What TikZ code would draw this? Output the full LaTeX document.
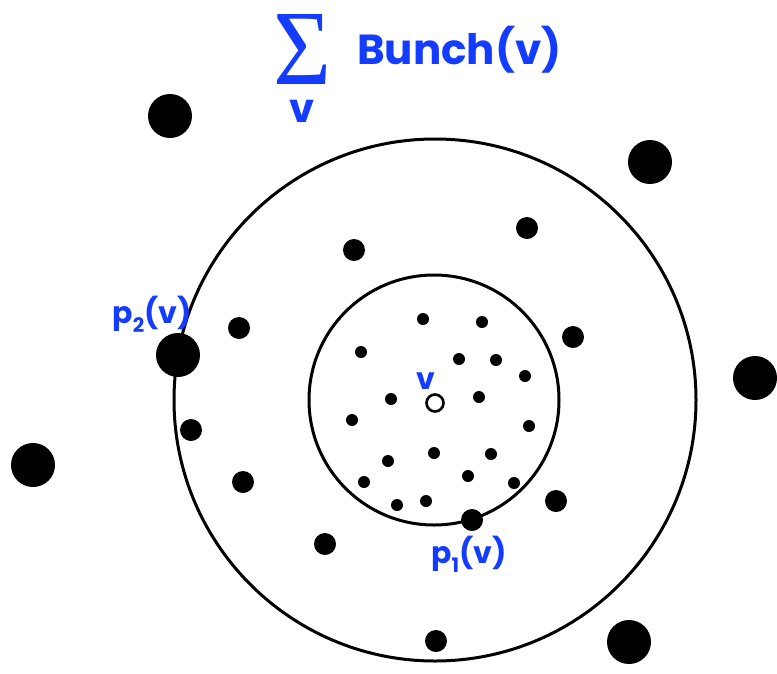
\documentclass[tikz,border=0pt]{standalone}
\usepackage{fontspec}
\usepackage{graphicx}
\setsansfont{Poppins}
\newfontfamily\sigfont{Liberation Serif}
\definecolor{lblue}{RGB}{20,60,255}
\begin{document}
\begin{tikzpicture}[x=1pt,y=-1pt,
  ring/.style={draw=black,line width=3pt},
  sdot/.style={circle,fill=black,inner sep=0pt,minimum size=12pt},
  mdot/.style={circle,fill=black,inner sep=0pt,minimum size=22pt},
  ldot/.style={circle,fill=black,inner sep=0pt,minimum size=44pt},
  lbl/.style={text=lblue,font=\sffamily\bfseries,inner sep=0pt},
  lab/.style={lbl,font=\sffamily\bfseries\fontsize{30}{30}\selectfont}]
\useasboundingbox (0,0) rectangle (777,673);
% circles
\node[ring,circle,minimum size=522pt,inner sep=0pt] (outer) at (435,400) {};
\node[ring,circle,minimum size=250pt,inner sep=0pt] (inner) at (434,400) {};
% small dots
\foreach \n/\x/\y in {s1/423/319,s2/482/322,s3/361/352,s4/459/359,s5/496/360,s6/525/376,
  s7/391/399,s8/479/397,s9/352/420,s10/529/426,s11/434/453,s12/491/454,s13/388/461,
  s14/364/482,s15/468/476,s16/514/483,s17/397/505,s18/426/501}
  \node[sdot] (\n) at (\x,\y) {};
% v
\node[circle,draw=black,line width=2.6pt,fill=white,minimum size=17pt,inner sep=0pt] (v) at (435,403) {};
\node[lab] (vl) at (426,381) {v};
% medium dots
\foreach \n/\x/\y in {m1/354/250,m2/527/228,m3/239/328,m4/573/337,m5/191/430,
  m6/243/482,m7/556/501,m8/325/544,m9/436/641}
  \node[mdot] (\n) at (\x,\y) {};
\node[mdot] (p1) at (472,520) {};
% large dots
\foreach \n/\x/\y in {l1/170/116,l2/650/162,l3/755/378,l4/33/465,l5/629/642}
  \node[ldot] (\n) at (\x,\y) {};
\node[ldot] (p2) at (178,355) {};
% labels
\node[lab] (p2l) at (152,314) {p\raisebox{-9pt}{\fontsize{20}{20}\selectfont 2}(v)};
\node[lab] (p1l) at (469,554) {p\raisebox{-9pt}{\fontsize{20}{20}\selectfont 1}(v)};
% title
\node[text=lblue,inner sep=0pt] (sig) at (302,49) {\resizebox{58pt}{70pt}{\sigfont Σ}};
\node[lbl,font=\sffamily\bfseries\fontsize{40}{40}\selectfont] (sv) at (302,111) {v};
\node[lbl,font=\sffamily\bfseries\fontsize{42}{42}\selectfont,anchor=west] (title) at (357,50) {Bunch(v)};
\end{tikzpicture}
\end{document}
